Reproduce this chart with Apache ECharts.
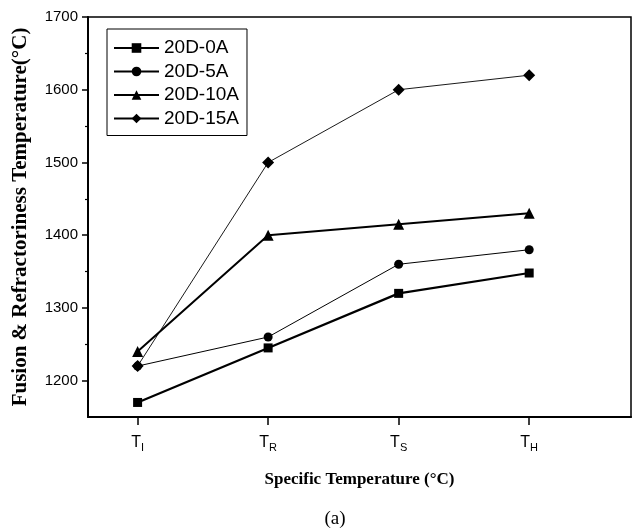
<!DOCTYPE html>
<html>
<head>
<meta charset="utf-8">
<script src="https://cdn.jsdelivr.net/npm/echarts@6/dist/echarts.min.js"></script>
<style>html,body{margin:0;padding:0;background:#fff}#c{width:633px;height:532px}</style>
</head>
<body>
<div id="c"></div>
<script>
// ---- data ----
const categories = ['TI', 'TR', 'TS', 'TH'];
const tickMain = ['T', 'T', 'T', 'T'];
const tickSub = ['I', 'R', 'S', 'H'];
const seriesNames = ['20D-0A', '20D-5A', '20D-10A', '20D-15A'];
const values0A = [1170, 1245, 1320, 1348];
const values5A = [1220, 1260, 1360, 1380];
const values10A = [1240, 1400, 1415, 1430];
const values15A = [1220, 1500, 1600, 1620];
const yTickValues = [1200, 1300, 1400, 1500, 1600, 1700];
const yMinorTickValues = [1250, 1350, 1450, 1550, 1650];
const yAxisTitle = 'Fusion & Refractoriness Temperature(°C)';
const xAxisTitle = 'Specific Temperature (°C)';
const panelLabel = '(a)';

const xPositions = categories.map((c, i) => i + 1);
const pairs = vals => vals.map((v, i) => [xPositions[i], v]);

const chart = echarts.init(document.getElementById('c'));
const styles = [
  { symbol: 'rect', size: 9, width: 2.2 },
  { symbol: 'circle', size: 9, width: 1 },
  { symbol: 'triangle', size: 11, width: 2 },
  { symbol: 'diamond', size: 12, width: 0.9 }
];
const allValues = [values0A, values5A, values10A, values15A];

chart.setOption({
  animation: false,
  backgroundColor: '#fff',
  grid: { left: 88, right: 2, top: 17, bottom: 115, show: true, borderColor: '#000', borderWidth: 1.5, backgroundColor: 'transparent' },
  title: {
    text: panelLabel, left: 330, top: 505, textAlign: 'center',
    textStyle: { fontFamily: 'Liberation Serif', fontWeight: 'normal', fontSize: 19, color: '#000' }
  },
  legend: {
    orient: 'vertical', left: 107, top: 29,
    data: seriesNames,
    itemWidth: 45, itemHeight: 12, itemGap: 3.5,
    padding: [9, 8, 7, 6],
    borderColor: '#000', borderWidth: 1,
    textStyle: { fontFamily: 'Liberation Sans', fontSize: 19, color: '#000', lineHeight: 20 }
  },
  xAxis: {
    type: 'value', min: 0.62, max: 4.78,
    name: xAxisTitle, nameLocation: 'middle', nameGap: 54,
    nameTextStyle: { fontFamily: 'Liberation Serif', fontWeight: 'bold', fontSize: 17, color: '#000' },
    axisLine: { show: true, lineStyle: { color: '#000', width: 2 } },
    axisTick: { show: true, customValues: xPositions, length: 8, lineStyle: { color: '#000', width: 1.5 } },
    axisLabel: {
      customValues: xPositions, margin: 15, color: '#000',
      formatter: v => {
        const i = xPositions.indexOf(Math.round(v));
        return i < 0 ? '' : '{t|' + tickMain[i] + '}{s|' + tickSub[i] + '}';
      },
      rich: {
        t: { fontFamily: 'Liberation Sans', fontSize: 16, color: '#000' },
        s: { fontFamily: 'Liberation Sans', fontSize: 11, color: '#000', padding: [10, 0, 0, 0] }
      }
    },
    splitLine: { show: false }
  },
  yAxis: [{
    type: 'value', min: 1150, max: 1700,
    name: yAxisTitle, nameLocation: 'middle', nameGap: 57,
    nameTextStyle: { fontFamily: 'Liberation Serif', fontWeight: 'bold', fontSize: 21, color: '#000' },
    axisLine: { show: true, lineStyle: { color: '#000', width: 2 } },
    axisTick: { show: true, customValues: yTickValues, length: 6, lineStyle: { color: '#000', width: 1.5 } },
    axisLabel: { customValues: yTickValues, margin: 10, fontFamily: 'Liberation Sans', fontSize: 15, color: '#000', formatter: v => String(v) },
    splitLine: { show: false }
  }, {
    type: 'value', min: 1150, max: 1700, position: 'left',
    axisLine: { show: false },
    axisTick: { show: true, customValues: yMinorTickValues, length: 3, lineStyle: { color: '#000', width: 1.2 } },
    axisLabel: { show: false },
    splitLine: { show: false }
  }],
  series: allValues.map((vals, k) => ({
    name: seriesNames[k], type: 'line', data: pairs(vals),
    symbol: styles[k].symbol, symbolSize: styles[k].size,
    lineStyle: { color: '#000', width: styles[k].width },
    itemStyle: { color: '#000' },
    z: 2 + k
  }))
});
</script>
</body>
</html>
